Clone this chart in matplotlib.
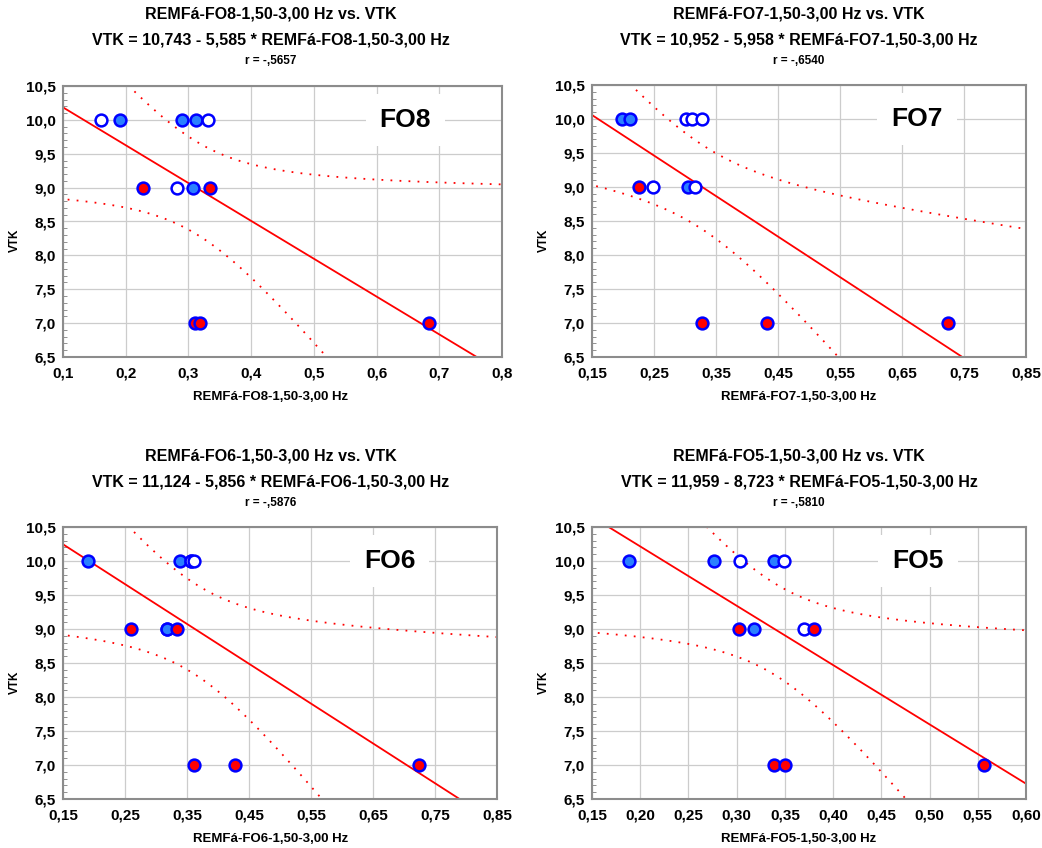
import numpy as np
from matplotlib import pyplot as plt
from matplotlib.ticker import FuncFormatter, MultipleLocator

plt.rcParams['font.family'] = ['Liberation Sans', 'DejaVu Sans']
plt.rcParams['font.weight'] = 'bold'

# point types: o = open, b = blue filled, r = red filled
fo8_x = [0.161, 0.191, 0.289, 0.312, 0.331, 0.227, 0.282, 0.307, 0.335, 0.3105, 0.318, 0.683]
fo8_y = [10, 10, 10, 10, 10, 9, 9, 9, 9, 7, 7, 7]
fo8_t = ['o', 'b', 'b', 'b', 'o', 'r', 'o', 'b', 'r', 'r', 'r', 'r']

fo7_x = [0.198, 0.212, 0.302, 0.311, 0.328, 0.226, 0.249, 0.305, 0.316, 0.328, 0.432, 0.724]
fo7_y = [10, 10, 10, 10, 10, 9, 9, 9, 9, 7, 7, 7]
fo7_t = ['b', 'b', 'o', 'o', 'o', 'r', 'o', 'b', 'o', 'r', 'r', 'r']

# two of the FO6 subjects sit on top of others
fo6_x = [0.191, 0.338, 0.356, 0.356, 0.362, 0.259, 0.318, 0.318, 0.3345, 0.362, 0.428, 0.724]
fo6_y = [10, 10, 10, 10, 10, 9, 9, 9, 9, 7, 7, 7]
fo6_t = ['b', 'b', 'o', 'o', 'o', 'r', 'b', 'b', 'r', 'r', 'r', 'r']

fo5_x = [0.188, 0.277, 0.303, 0.339, 0.349, 0.302, 0.318, 0.370, 0.380, 0.339, 0.350, 0.556]
fo5_y = [10, 10, 10, 10, 10, 9, 9, 9, 9, 7, 7, 7]
fo5_t = ['b', 'b', 'o', 'b', 'o', 'r', 'b', 'o', 'r', 'r', 'r', 'r']

# intercept, slope, r as printed on the chart
fits = {'FO8': (10.743, -5.585, '-,5657'),
        'FO7': (10.952, -5.958, '-,6540'),
        'FO6': (11.124, -5.856, '-,5876'),
        'FO5': (11.959, -8.723, '-,5810')}

# 95% t values by degrees of freedom
t_val = {8: 2.306, 10: 2.228}

W, H = 1042, 848
fig = plt.figure(figsize=(W / 100, H / 100), dpi=100)

face = {'o': 'white', 'b': '#2a80ff', 'r': '#ff0000'}


def panel(name, xs, ys, ts, box, xlim, xstep, ndec, title_x, title_y, label_x):
    left, right, top, bottom = box
    ax = fig.add_axes([left / W, 1 - bottom / H, (right - left) / W, (bottom - top) / H])
    a, b, r = fits[name]
    xs = np.array(xs)
    ys = np.array(ys, dtype=float)

    ax.set_xlim(*xlim)
    ax.set_ylim(6.5, 10.5)
    ax.set_xticks(np.round(np.arange(xlim[0], xlim[1] + xstep / 2, xstep), 3))
    ax.yaxis.set_major_locator(MultipleLocator(0.5))
    ax.yaxis.set_minor_locator(MultipleLocator(0.1))
    ax.xaxis.set_major_formatter(FuncFormatter(lambda v, p: ('%.*f' % (ndec, v)).replace('.', ',')))
    ax.yaxis.set_major_formatter(FuncFormatter(lambda v, p: ('%.1f' % v).replace('.', ',')))
    ax.grid(True, color='#cccccc', lw=0.9)
    ax.set_axisbelow(True)
    for s in ax.spines.values():
        s.set_color('#8c8c8c')
        s.set_linewidth(1.5)
    ax.tick_params(axis='both', which='major', labelsize=11, length=0)
    ax.tick_params(axis='x', which='major', pad=7)
    ax.tick_params(axis='y', which='major', pad=5)
    ax.tick_params(axis='y', which='minor', direction='in', length=3, color='#808080')

    # regression line and 95% confidence bands
    xx = np.linspace(xlim[0] - 0.05, xlim[1] + 0.05, 300)
    yhat = a + b * xx
    n = len(xs)
    s = np.sqrt(np.sum((ys - (a + b * xs)) ** 2) / (n - 2))
    sxx = np.sum((xs - xs.mean()) ** 2)
    se = s * np.sqrt(1.0 / n + (xx - xs.mean()) ** 2 / sxx)
    t = t_val[n - 2]
    ax.plot(xx, yhat, color='red', lw=1.3, zorder=2)
    ax.plot(xx, yhat + t * se, color='red', lw=1.3, ls=(0, (1, 4)), zorder=2)
    ax.plot(xx, yhat - t * se, color='red', lw=1.3, ls=(0, (1, 4)), zorder=2)

    for x, y, k in zip(xs, ys, ts):
        ax.plot(x, y, 'o', ms=8.5, mfc=face[k], mec='#0000ff', mew=1.8, zorder=3)

    ax.text(label_x, 10, name, fontsize=19, fontweight='bold', ha='center', va='center',
            bbox=dict(facecolor='white', edgecolor='none', pad=10), zorder=4)

    fig.text(title_x / W, 1 - (bottom + 40) / H, 'REMFá-%s-1,50-3,00 Hz' % name,
             fontsize=9.5, fontweight='bold', ha='center', va='center')
    fig.text((left - 48) / W, 1 - (top + bottom + 38) / 2 / H, 'VTK', rotation=90,
             fontsize=8.5, fontweight='bold', ha='center', va='center')

    fig.text(title_x / W, 1 - title_y / H, 'REMFá-%s-1,50-3,00 Hz vs. VTK' % name,
             fontsize=11.5, fontweight='bold', ha='center', va='center')
    eq = ('VTK = %.3f - %.3f * REMFá-%s-1,50-3,00 Hz' % (a, -b, name)).replace('.', ',')
    fig.text(title_x / W, 1 - (title_y + 26) / H, eq,
             fontsize=11.5, fontweight='bold', ha='center', va='center')
    fig.text(title_x / W, 1 - (title_y + 47) / H, 'r = ' + r,
             fontsize=8.5, fontweight='bold', ha='center', va='center')
    return ax


panel('FO8', fo8_x, fo8_y, fo8_t, (63, 502, 86, 357), (0.1, 0.8), 0.1, 1, 271, 14, 0.646)
panel('FO7', fo7_x, fo7_y, fo7_t, (592, 1026, 85, 357), (0.15, 0.85), 0.1, 2, 799, 14, 0.674)
panel('FO6', fo6_x, fo6_y, fo6_t, (63, 497, 527, 799), (0.15, 0.85), 0.1, 2, 271, 456, 0.677)
panel('FO5', fo5_x, fo5_y, fo5_t, (592, 1026, 527, 799), (0.15, 0.60), 0.05, 2, 799, 456, 0.488)

fig.savefig('out.png', dpi=100)
